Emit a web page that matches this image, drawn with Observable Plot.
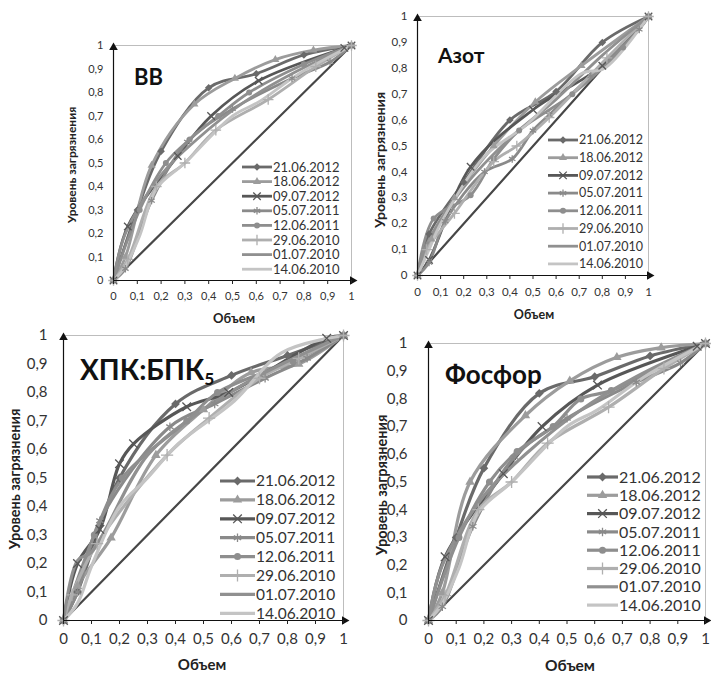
<!DOCTYPE html>
<html><head><meta charset="utf-8">
<script src="https://cdn.jsdelivr.net/npm/d3@7"></script>
<script src="https://cdn.jsdelivr.net/npm/@observablehq/plot@0.6"></script>
<style>
body{margin:0;background:#fff;}
#root{position:relative;width:711px;height:673px;overflow:hidden;font-family:Lato,"Open Sans",sans-serif;}
#root svg{position:absolute;overflow:visible;background:transparent;}
</style></head><body><div id="root"></div>
<script>
// ---- data ----
const seriesNames = ["21.06.2012","18.06.2012","09.07.2012","05.07.2011","12.06.2011","29.06.2010","01.07.2010","14.06.2010"];
const seriesColors = ["#6a6a6a","#9c9c9c","#575757","#8a8a8a","#8e8e8e","#afafaf","#909090","#c4c4c4"];
const seriesSymbols = ["square","triangle","times","asterisk","circle","plus",null,null];
const xTicks = [0,0.1,0.2,0.3,0.4,0.5,0.6,0.7,0.8,0.9,1];
const yTicks = [0,0.1,0.2,0.3,0.4,0.5,0.6,0.7,0.8,0.9,1];
const diagonal = [[0,0],[1,1]];

// ВВ (series in seriesNames order; [Объем, Уровень загрязнения])
const vvSeries = [
  [[0,0],[0.1,0.3],[0.2,0.55],[0.4,0.82],[0.6,0.88],[0.8,0.96],[1,1]],
  [[0,0],[0.05,0.1],[0.16,0.49],[0.34,0.75],[0.51,0.86],[0.68,0.94],[0.84,0.98],[1,1]],
  [[0,0],[0.06,0.23],[0.27,0.53],[0.41,0.7],[0.61,0.85],[0.97,0.99],[1,1]],
  [[0,0],[0.05,0.05],[0.16,0.34],[0.31,0.59],[0.5,0.73],[0.75,0.86],[0.91,0.93],[1,1]],
  [[0,0],[0.11,0.3],[0.22,0.5],[0.32,0.6],[0.44,0.7],[0.57,0.8],[0.8,0.92],[1,1]],
  [[0,0],[0.06,0.09],[0.18,0.4],[0.3,0.5],[0.43,0.64],[0.65,0.77],[0.85,0.91],[1,1]],
  [[0,0],[0.05,0.2],[0.2,0.45],[0.35,0.6],[0.55,0.76],[0.75,0.88],[1,1]],
  [[0,0],[0.05,0.06],[0.11,0.19],[0.18,0.39],[0.3,0.5],[0.5,0.7],[0.61,0.76],[0.78,0.88],[1,1]]
];
// Азот
const azotSeries = [
  [[0,0],[0.05,0.16],[0.2,0.36],[0.4,0.6],[0.6,0.71],[0.8,0.9],[1,1]],
  [[0,0],[0.06,0.14],[0.16,0.3],[0.33,0.5],[0.51,0.67],[0.71,0.81],[1,1]],
  [[0,0],[0.05,0.06],[0.23,0.42],[0.5,0.64],[0.8,0.81],[1,1]],
  [[0,0],[0.05,0.05],[0.12,0.21],[0.29,0.4],[0.41,0.45],[0.5,0.56],[0.57,0.62],[0.75,0.77],[0.96,0.95],[1,1]],
  [[0,0],[0.07,0.22],[0.23,0.31],[0.33,0.45],[0.44,0.56],[0.67,0.7],[0.89,0.88],[1,1]],
  [[0,0],[0.04,0.1],[0.16,0.24],[0.33,0.44],[0.43,0.5],[0.57,0.61],[0.82,0.84],[1,1]],
  [[0,0],[0.04,0.12],[0.2,0.34],[0.4,0.53],[0.6,0.68],[0.8,0.85],[1,1]],
  [[0,0],[0.05,0.1],[0.1,0.2],[0.29,0.46],[0.47,0.58],[0.71,0.78],[0.81,0.8],[1,1]]
];
// ХПК:БПК5
const codSeries = [
  [[0,0],[0.05,0.1],[0.2,0.5],[0.4,0.76],[0.6,0.86],[0.8,0.93],[1,1]],
  [[0,0],[0.05,0.12],[0.17,0.29],[0.33,0.58],[0.5,0.74],[0.67,0.87],[0.84,0.9],[1,1]],
  [[0,0],[0.05,0.2],[0.13,0.32],[0.2,0.55],[0.25,0.62],[0.44,0.75],[0.59,0.8],[0.94,0.99],[1,1]],
  [[0,0],[0.05,0.1],[0.13,0.35],[0.38,0.68],[0.54,0.76],[0.72,0.85],[0.87,0.92],[1,1]],
  [[0,0],[0.11,0.3],[0.21,0.5],[0.44,0.7],[0.55,0.8],[0.82,0.91],[1,1]],
  [[0,0],[0.03,0.09],[0.12,0.27],[0.37,0.58],[0.52,0.71],[0.7,0.85],[0.84,0.92],[1,1]],
  [[0,0],[0.05,0.21],[0.1,0.24],[0.3,0.58],[0.5,0.74],[0.7,0.86],[1,1]],
  [[0,0],[0.05,0.06],[0.1,0.19],[0.2,0.4],[0.3,0.5],[0.41,0.62],[0.61,0.77],[0.78,0.94],[1,1]]
];
// Фосфор
const phosSeries = [
  [[0,0],[0.1,0.3],[0.2,0.55],[0.4,0.82],[0.6,0.88],[0.8,0.955],[1,1]],
  [[0,0],[0.05,0.1],[0.15,0.5],[0.35,0.74],[0.51,0.865],[0.68,0.95],[0.84,0.985],[1,1]],
  [[0,0],[0.06,0.23],[0.27,0.53],[0.41,0.7],[0.61,0.85],[0.97,0.99],[1,1]],
  [[0,0],[0.05,0.05],[0.16,0.34],[0.31,0.59],[0.5,0.73],[0.75,0.86],[0.91,0.93],[1,1]],
  [[0,0],[0.11,0.3],[0.22,0.5],[0.32,0.61],[0.45,0.7],[0.55,0.8],[0.66,0.83],[1,1]],
  [[0,0],[0.06,0.09],[0.18,0.4],[0.3,0.5],[0.43,0.64],[0.65,0.77],[0.85,0.91],[1,1]],
  [[0,0],[0.05,0.2],[0.2,0.45],[0.35,0.6],[0.55,0.76],[0.75,0.88],[1,1]],
  [[0,0],[0.05,0.06],[0.11,0.19],[0.18,0.39],[0.3,0.5],[0.5,0.7],[0.61,0.76],[0.78,0.88],[1,1]]
];

// ---- layout ----
const panels = [
  {series: vvSeries, title: "ВВ", sub: null, left: 0, top: 0, w: 360, h: 330, mL: 113, mR: 9, mT: 45, mB: 50,
   tickFs: 11, xPad: 8, yPad: 10, lw: 2.8, r: 3,
   titleX: 134, titleY: 85, titleFs: 22,
   yLabX: 72, yLabY: 165, yLabFs: 12, xLabX: 234, xLabY: 318, xLabFs: 13,
   leg: {x: 242, y0: 167, dy: 14.6, len: 30, fs: 13}},
  {series: azotSeries, title: "Азот", sub: null, left: 360, top: 0, w: 351, h: 330, mL: 57, mR: 63, mT: 16, mB: 55,
   tickFs: 11.5, xPad: 8, yPad: 10, lw: 2.8, r: 3,
   titleX: 78, titleY: 63, titleFs: 21,
   yLabX: 20, yLabY: 160, yLabFs: 14, xLabX: 174, xLabY: 315, xLabFs: 12.5,
   leg: {x: 188, y0: 140, dy: 17.7, len: 30, fs: 12.5}},
  {series: codSeries, title: "ХПК:БПК", sub: "5", left: 0, top: 330, w: 360, h: 343, mL: 63, mR: 17, mT: 5, mB: 53,
   tickFs: 15, xPad: 9, yPad: 16, lw: 3.2, r: 3.5,
   titleX: 80, titleY: 50, titleFs: 28,
   yLabX: 15, yLabY: 149, yLabFs: 14.5, xLabX: 202, xLabY: 335, xLabFs: 15,
   leg: {x: 220, y0: 151, dy: 18.9, len: 35, fs: 15.5}},
  {series: phosSeries, title: "Фосфор", sub: null, left: 360, top: 330, w: 351, h: 343, mL: 68, mR: 6, mT: 13, mB: 53,
   tickFs: 15, xPad: 9, yPad: 21, lw: 3.2, r: 3.5,
   titleX: 85, titleY: 54, titleFs: 26,
   yLabX: 22, yLabY: 155, yLabFs: 14.5, xLabX: 210, xLabY: 336, xLabFs: 15.5,
   leg: {x: 227, y0: 147, dy: 18.3, len: 31, fs: 16}}
];

const fmt = d => String(d).replace(".", ",");
const colorOf = Object.fromEntries(seriesNames.map((n, i) => [n, seriesColors[i]]));
const symOf = Object.fromEntries(seriesNames.map((n, i) => [n, seriesSymbols[i]]));
const marked = seriesNames.filter(n => symOf[n]);
const filledSyms = new Set(["square","triangle","circle"]);
const d3Sym = {square: d3.symbolSquare, triangle: d3.symbolTriangle, times: d3.symbolTimes,
  asterisk: d3.symbolAsterisk, circle: d3.symbolCircle, plus: d3.symbolPlus};
const root = document.getElementById("root");

for (const P of panels) {
  const rows = P.series.flatMap((pts, i) => pts.map(([x, y]) => ({series: seriesNames[i], x, y})));
  const filledRows = rows.filter(d => symOf[d.series] && filledSyms.has(symOf[d.series]));
  const strokedRows = rows.filter(d => symOf[d.series] && !filledSyms.has(symOf[d.series]));
  const xEnd = xTicks[xTicks.length - 1], yEnd = yTicks[yTicks.length - 1];
  const chart = Plot.plot({
    width: P.w, height: P.h,
    marginLeft: P.mL, marginRight: P.mR, marginTop: P.mT, marginBottom: P.mB,
    style: {fontFamily: "Lato, 'Open Sans', sans-serif", color: "#333", background: "transparent", overflow: "visible"},
    x: {domain: [xTicks[0], xEnd]},
    y: {domain: [yTicks[0], yEnd]},
    color: {domain: seriesNames, range: seriesColors},
    symbol: {domain: marked, range: marked.map(n => symOf[n])},
    marks: [
      Plot.ruleY([yEnd], {stroke: "#bdbdbd", strokeWidth: 1}),
      Plot.ruleX([xEnd], {stroke: "#bdbdbd", strokeWidth: 1}),
      Plot.line(diagonal, {x: d => d[0], y: d => d[1], stroke: "#474747", strokeWidth: 2.2}),
      Plot.line(rows, {x: "x", y: "y", z: "series", stroke: "series", strokeWidth: P.lw, curve: "catmull-rom"}),
      Plot.dot(filledRows, {x: "x", y: "y", symbol: "series", fill: "series", r: P.r,
        rotate: d => symOf[d.series] === "square" ? 45 : 0}),
      Plot.dot(strokedRows, {x: "x", y: "y", symbol: "series", stroke: "series", strokeWidth: 1.3, r: P.r + 0.5}),
      Plot.ruleY([yTicks[0]], {stroke: "#111", strokeWidth: 1.2}),
      Plot.ruleX([xTicks[0]], {stroke: "#111", strokeWidth: 1.2}),
      Plot.dot([xEnd], {x: d => d, y: () => yTicks[0], symbol: "triangle", rotate: 90, fill: "#111", r: 3.2, dx: 1}),
      Plot.dot([yEnd], {x: () => xTicks[0], y: d => d, symbol: "triangle", fill: "#111", r: 3.2, dy: 2}),
      Plot.axisX(xTicks, {tickSize: 4, tickPadding: P.xPad, tickFormat: fmt, fontSize: P.tickFs, label: null, stroke: "#222", color: "#333"}),
      Plot.axisY(yTicks, {tickSize: 0, tickPadding: P.yPad, tickFormat: fmt, fontSize: P.tickFs, label: null, color: "#333"})
    ]
  });
  chart.style.left = P.left + "px";
  chart.style.top = P.top + "px";
  const svg = d3.select(chart);
  // title
  const t = svg.append("text").attr("x", P.titleX).attr("y", P.titleY).attr("text-anchor", "start")
    .attr("font-size", P.titleFs).attr("font-weight", "bold").attr("fill", "#111").text(P.title);
  if (P.sub) t.append("tspan").attr("font-size", P.titleFs * 0.62).attr("dy", P.titleFs * 0.18).text(P.sub);
  // axis titles
  svg.append("text").attr("transform", `translate(${P.yLabX},${P.yLabY}) rotate(-90)`)
    .attr("text-anchor", "middle").attr("dy", "0.35em").attr("font-size", P.yLabFs).attr("font-weight", "bold")
    .attr("fill", "#222").text("Уровень загрязнения");
  svg.append("text").attr("x", P.xLabX).attr("y", P.xLabY).attr("text-anchor", "middle").attr("dy", "0.35em")
    .attr("font-size", P.xLabFs).attr("font-weight", "bold").attr("fill", "#222").text("Объем");
  // legend
  const L = P.leg;
  const g = svg.append("g");
  seriesNames.forEach((name, i) => {
    const y = L.y0 + i * L.dy, col = colorOf[name], s = symOf[name];
    g.append("line").attr("x1", L.x).attr("x2", L.x + L.len).attr("y1", y).attr("y2", y)
      .attr("stroke", col).attr("stroke-width", P.lw);
    if (s) {
      const p = g.append("path").attr("d", d3.symbol(d3Sym[s], Math.PI * (filledSyms.has(s) ? P.r : P.r + 0.5) ** 2)())
        .attr("transform", `translate(${L.x + L.len / 2},${y})` + (s === "square" ? " rotate(45)" : ""));
      if (filledSyms.has(s)) p.attr("fill", col); else p.attr("fill", "none").attr("stroke", col).attr("stroke-width", 1.3);
    }
    g.append("text").attr("x", L.x + L.len + 1).attr("y", y).attr("dy", "0.35em").attr("text-anchor", "start")
      .attr("font-size", L.fs).attr("fill", "#333").text(name);
  });
  root.appendChild(chart);
}
</script></body></html>
